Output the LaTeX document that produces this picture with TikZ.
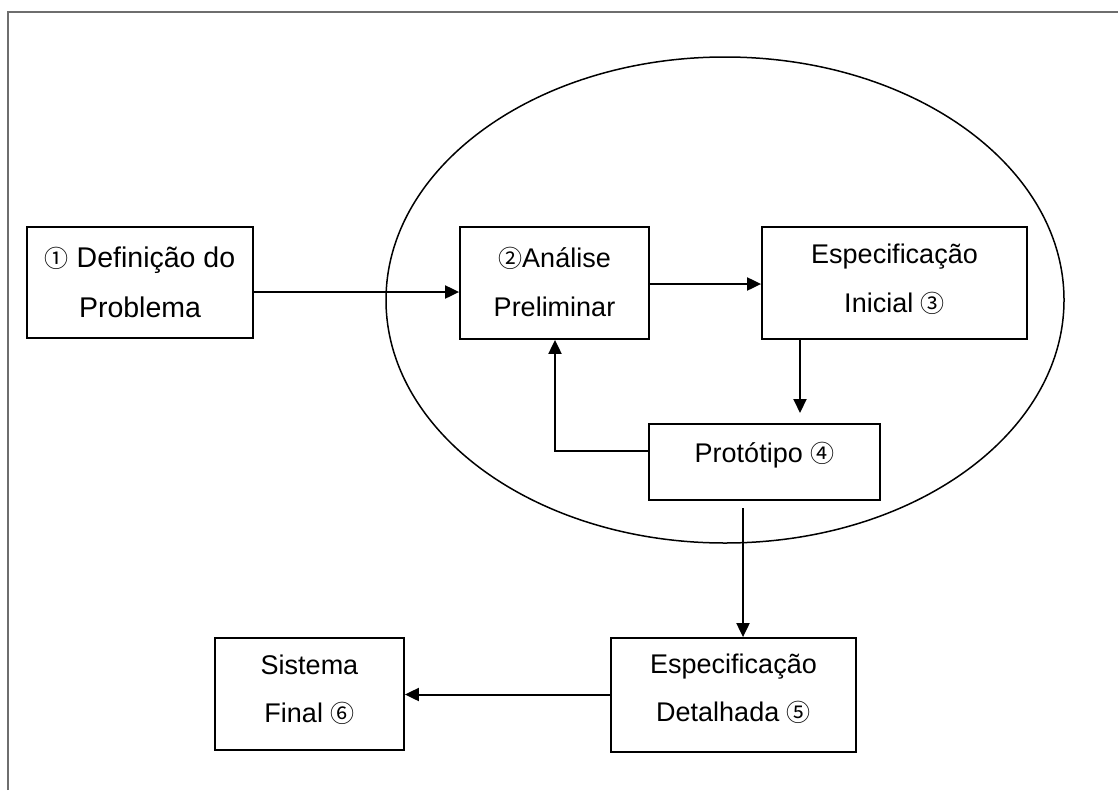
\documentclass[tikz,border=0pt]{standalone}
\usepackage{fontspec}
\setmainfont{Liberation Sans}
\newfontfamily\circfont{Noto Sans CJK SC}
\usetikzlibrary{arrows.meta}
\definecolor{framegray}{HTML}{6E6E6E}
\newcommand\cnum[1]{{\circfont\fontsize{24}{24}\selectfont #1}}
\begin{document}
\begin{tikzpicture}[x=1pt,y=-1pt,
  stagebox/.style={draw=black, line width=1.8pt, fill=white, inner sep=0pt, rectangle},
  txt/.style={font=\fontsize{27}{30}\selectfont, inner sep=0pt, anchor=base},
  bigtxt/.style={txt, font=\fontsize{28.5}{32}\selectfont},
  arr/.style={line width=2pt, -{Triangle[length=14pt,width=13pt]}},
  outline/.style={draw=framegray, line width=1.6pt}]
  \useasboundingbox (0,0) rectangle (1118,790);

  % page frame (top and left edges only)
  \draw[outline] (8,790) -- (8,12) -- (1118,12);

  % prototyping cycle
  \draw[line width=1.5pt] (725,300) ellipse [x radius=339pt, y radius=243pt];

  % stages
  \node[stagebox, minimum width=226pt, minimum height=111pt] (b1) at (140,282.5) {};
  \node[stagebox, minimum width=189pt, minimum height=112pt] (b2) at (554.5,283) {};
  \node[stagebox, minimum width=265pt, minimum height=112pt] (b3) at (894.5,283) {};
  \node[stagebox, minimum width=231pt, minimum height=76pt]  (b4) at (764.5,462) {};
  \node[stagebox, minimum width=245pt, minimum height=114pt] (b5) at (733.5,695) {};
  \node[stagebox, minimum width=189pt, minimum height=112pt] (b6) at (309.5,694) {};

  % stage labels
  \node[bigtxt] (t1a) at (140,267) {\cnum{①} Definição do};
  \node[bigtxt] (t1b) at (140,317) {Problema};
  \node[txt] (t2a) at (554.5,267) {\cnum{②}Análise};
  \node[txt] (t2b) at (554.5,316) {Preliminar};
  \node[txt] (t3a) at (894.5,263) {Especificação};
  \node[txt] (t3b) at (894.5,312) {Inicial \cnum{③}};
  \node[txt] (t4a) at (764.5,462) {Protótipo \cnum{④}};
  \node[txt] (t5a) at (733.5,673) {Especificação};
  \node[txt] (t5b) at (733.5,721) {Detalhada \cnum{⑤}};
  \node[txt] (t6a) at (309.5,674) {Sistema};
  \node[txt] (t6b) at (309.5,722) {Final \cnum{⑥}};

  % connector levels and free ends
  \coordinate (r1) at (0,292);
  \coordinate (r2) at (0,284);
  \coordinate (c3) at (800,413);
  \coordinate (r4) at (0,451);
  \coordinate (c4) at (555,0);
  \coordinate (c5) at (743,508);
  \coordinate (r6) at (0,694.5);

  % connectors
  \draw[arr] (b1.east |- r1) -- (b2.west |- r1);
  \draw[arr] (b2.east |- r2) -- (b3.west |- r2);
  \draw[arr] (b3.south -| c3) -- (c3);
  \draw[arr] (b4.west |- r4) -| (b2.south -| c4);
  \draw[arr] (c5) -- (b5.north -| c5);
  \draw[arr] (b5.west |- r6) -- (b6.east |- r6);
\end{tikzpicture}
\end{document}
